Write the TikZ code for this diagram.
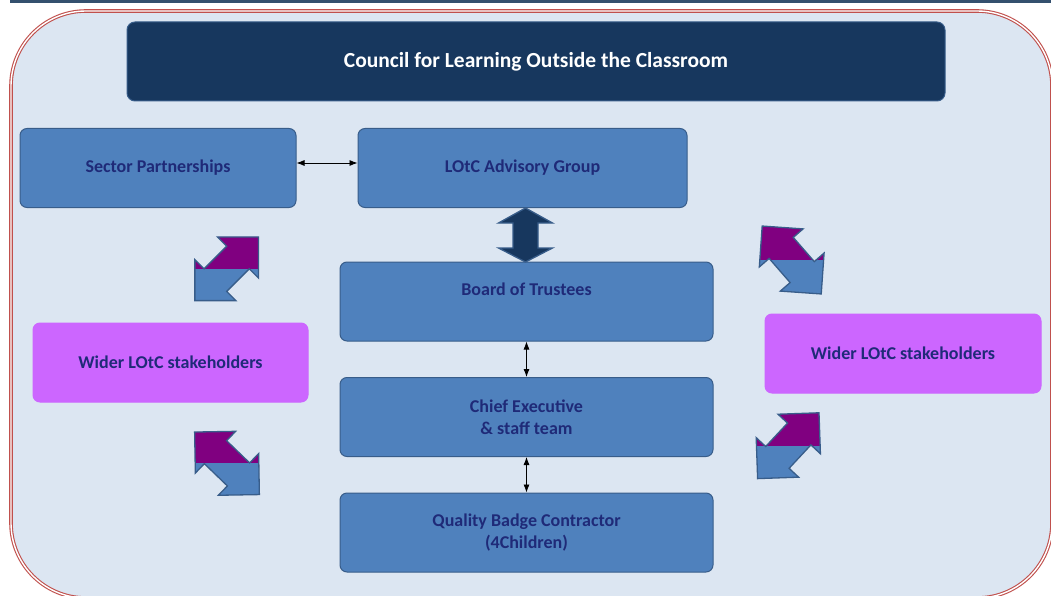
\documentclass[tikz,border=0pt]{standalone}
\usepackage{fontspec}
\setmainfont{Carlito}
\usepackage{tikz}
\usetikzlibrary{arrows.meta}

\definecolor{pagefill}{HTML}{DCE6F2}
\definecolor{rimred}{HTML}{C0504D}
\definecolor{topband}{HTML}{34506E}
\definecolor{navyfill}{HTML}{17375E}
\definecolor{boxblue}{HTML}{4F81BD}
\definecolor{boxline}{HTML}{385D8A}
\definecolor{boxviolet}{HTML}{CC66FF}
\definecolor{labelnavy}{HTML}{1F2A78}
\definecolor{arrowpurple}{HTML}{800080}

\tikzset{
  titlebox/.style={draw=boxline, fill=navyfill, rounded corners=8pt, line width=1pt,
    inner sep=0pt, text=white, font=\fontsize{21.5}{26}\selectfont\bfseries},
  bluebox/.style={draw=boxline, fill=boxblue, rounded corners=7pt, line width=1pt,
    minimum height=79pt, inner sep=0pt, align=center, text=labelnavy,
    font=\fontsize{18}{22}\selectfont\bfseries},
  violetbox/.style={bluebox, draw=boxviolet, fill=boxviolet},
  lbl/.style={inner sep=0pt, text=labelnavy, font=\fontsize{18}{22}\selectfont\bfseries},
  thinarrow/.style={{Latex[length=8pt,width=6pt]}-{Latex[length=8pt,width=6pt]}, line width=0.8pt},
  arrowrim/.style={draw=boxline, line width=1.3pt, line join=miter}
}

% two-tone double arrow: centre x, centre y, angle
\newcommand{\splitarrow}[3]{%
  \begin{scope}[shift={(#1,#2)}]
    \begin{scope}
      \clip[rotate=#3] (-45,0) -- (-16,29) -- (-16,16) -- (16,16) -- (16,29) -- (45,0)
        -- (16,-29) -- (16,-16) -- (-16,-16) -- (-16,-29) -- cycle;
      \fill[boxblue] (-60,0) rectangle (60,60);
      \fill[arrowpurple] (-60,-60) rectangle (60,0);
    \end{scope}
    \draw[arrowrim, rotate=#3] (-45,0) -- (-16,29) -- (-16,16) -- (16,16) -- (16,29) -- (45,0)
      -- (16,-29) -- (16,-16) -- (-16,-16) -- (-16,-29) -- cycle;
  \end{scope}}

\begin{document}
\begin{tikzpicture}[x=1pt,y=-1pt]
  \useasboundingbox (0,0) rectangle (1051,596);
  \clip (0,0) rectangle (1051,596);

  % frame
  \fill[topband] (10,0) rectangle (1051,3.5);
  \draw[fill=pagefill, draw=rimred, double=white, line width=1.1pt, double distance=1.4pt,
    rounded corners=75pt] (11,11) rectangle (1052,598);

  % boxes
  \node[titlebox, minimum width=818pt, minimum height=79pt] (council) at (536,61.5)
    {Council for Learning Outside the Classroom};
  \node[bluebox, minimum width=276pt] (sector) at (158,168) {Sector Partnerships};
  \node[bluebox, minimum width=329pt] (advisory) at (522.5,168) {LOtC Advisory Group};
  \node[bluebox, minimum width=373pt] (board) at (526.5,301.5) {};
  \node[lbl] (boardtext) at ([yshift=-28pt]board.north) {Board of Trustees};
  \node[bluebox, minimum width=373pt] (chief) at (526.5,417) {Chief Executive\\ \& staff team};
  \node[bluebox, minimum width=373pt] (badge) at (526.5,532.5) {Quality Badge Contractor\\(4Children)};
  \node[violetbox, minimum width=275pt] (widerL) at (170.5,362.5) {Wider LOtC stakeholders};
  \node[violetbox, minimum width=276pt] (widerR) at (903,353.5) {Wider LOtC stakeholders};

  % connectors
  \draw[thinarrow] ([yshift=5pt]sector.east) -- ([yshift=5pt]advisory.west);
  \draw[thinarrow] (board.south) -- (chief.north);
  \draw[thinarrow] (chief.south) -- (badge.north);

  % big arrow advisory <-> board
  \draw[arrowrim, fill=navyfill] (525.5,208) -- (552.5,223) -- (538,223) -- (538,248)
    -- (552.5,248) -- (525.5,262) -- (498.5,248) -- (513,248) -- (513,223) -- (498.5,223) -- cycle;

  % stakeholder arrows
  \splitarrow{226.7}{268.8}{45}
  \splitarrow{227}{463.3}{-44}
  \splitarrow{791.7}{260}{-49}
  \splitarrow{788.3}{445.7}{47}
\end{tikzpicture}
\end{document}
